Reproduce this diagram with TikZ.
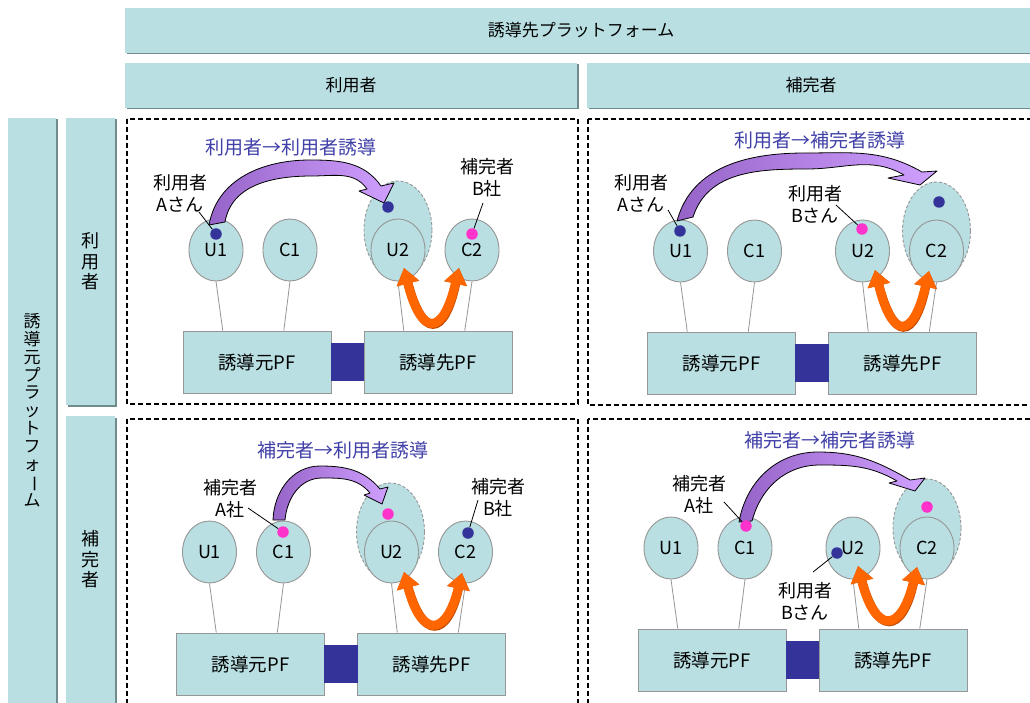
\documentclass[tikz,border=0pt]{standalone}
\usepackage{fontspec}
\setmainfont{Noto Sans CJK JP}
\usetikzlibrary{shapes.geometric,arrows.meta,calc,shadows}
\definecolor{teal1}{RGB}{185,223,226}
\definecolor{hdrshadow}{RGB}{112,140,142}
\definecolor{edgegray}{RGB}{150,150,150}
\definecolor{dotblue}{RGB}{51,51,153}
\definecolor{dotpink}{RGB}{255,51,204}
\definecolor{titleblue}{RGB}{64,64,168}
\definecolor{orng}{RGB}{255,102,0}
\definecolor{orngdark}{RGB}{196,76,0}
\definecolor{purpdark}{RGB}{150,100,200}
\definecolor{purplight}{RGB}{208,160,255}
\newcommand{\vbar}{\rotatebox[origin=c]{-90}{ー}}
\tikzset{
  hdr/.style={fill=teal1, draw=none, inner sep=0pt, align=center,
    drop shadow={shadow xshift=1.5pt, shadow yshift=-1.5pt, fill=hdrshadow, opacity=1},
    font=\fontsize{17}{20}\selectfont},
  frame/.style={draw=black, line width=1.5pt, dash pattern=on 5pt off 3pt},
  actor/.style={ellipse, fill=teal1, draw=edgegray, line width=0.9pt, minimum width=54pt,
    minimum height=62pt, inner sep=0pt, font=\fontsize{18}{20}\selectfont},
  dashell/.style={ellipse, fill=teal1, draw=edgegray, line width=0.9pt, dash pattern=on 3pt off 2pt,
    minimum width=68pt, minimum height=98pt, inner sep=0pt},
  pfbox/.style={rectangle, fill=teal1, draw=edgegray, line width=0.9pt, minimum width=148pt,
    minimum height=62pt, inner sep=0pt, font=\fontsize{18.5}{20}\selectfont},
  linkbar/.style={rectangle, fill=dotblue, draw=none, minimum width=33.5pt, minimum height=38pt, inner sep=0pt},
  wire/.style={draw=edgegray, line width=0.8pt},
  bdot/.style={circle, fill=dotblue, minimum size=11.5pt, inner sep=0pt},
  pdot/.style={circle, fill=dotpink, minimum size=11.5pt, inner sep=0pt},
  lbl/.style={align=center, inner sep=0pt, font=\fontsize{18}{22}\selectfont},
  ttl/.style={inner sep=0pt, text=titleblue, font=\fontsize{19}{22}\selectfont},
  leader/.style={draw=black, line width=0.8pt},
  parrow/.style={draw=black, line width=0.8pt, line join=round, left color=purpdark, right color=purplight},
  oarrow/.style={draw=orng, line width=9pt, {Triangle[width=22pt,length=16pt]}-{Triangle[width=22pt,length=16pt]}},
  oshadow/.style={oarrow, draw=orngdark, shift={(1.3,-1.3)}}
}
\newcommand{\pfquad}[4]{%
  \begin{scope}[shift={(#2,#3)}]
    \node[dashell] (#1dash) at (#4,-230) {};
    \node[actor] (#1u1) at (216,-250) {U1};
    \node[actor] (#1c1) at (290,-250) {C1};
    \node[actor] (#1u2) at (398,-250) {U2};
    \node[actor] (#1c2) at (472,-250) {C2};
    \node[pfbox] (#1src) at (257,-362) {誘導元PF};
    \node[pfbox] (#1dst) at (438,-362) {誘導先PF};
  \end{scope}
  \node[linkbar] (#1link) at ($(#1src.east)!0.5!(#1dst.west)$) {};
  \draw[wire] (#1u1.south) -- ($(#1src.north west)!0.27!(#1src.north east)$);
  \draw[wire] (#1c1.south) -- ($(#1src.north west)!0.68!(#1src.north east)$);
  \draw[wire] (#1u2.south) -- ($(#1dst.north west)!0.27!(#1dst.north east)$);
  \draw[wire] (#1c2.south) -- ($(#1dst.north west)!0.68!(#1dst.north east)$);
}
\begin{document}
\begin{tikzpicture}[x=1pt,y=1pt]
\useasboundingbox (0,0) rectangle (1030,-703);
\fill[white] (0,0) rectangle (1030,-703);

% headers
\node[hdr, minimum width=912pt, minimum height=45pt] (hTop) at (581,-30.5) {誘導先プラットフォーム};
\node[hdr, minimum width=452pt, minimum height=45pt] (hUser) at (351,-85.5) {利用者};
\node[hdr, minimum width=448pt, minimum height=45pt] (hComp) at (811,-85.5) {補完者};
\node[hdr, minimum width=48pt, minimum height=585pt, font=\fontsize{17}{17.8}\selectfont] (vSrc) at (32,-410.5)
  {誘\\導\\元\\プ\\ラ\\ッ\\ト\\フ\\ォ\\\vbar\\ム};
\node[hdr, minimum width=49pt, minimum height=287pt, font=\fontsize{18}{20.5}\selectfont] (vUser) at (90.5,-261.5) {利\\用\\者};
\node[hdr, minimum width=49pt, minimum height=287pt, font=\fontsize{18}{20.5}\selectfont] (vComp) at (90.5,-559.5) {補\\完\\者};

% frames
\draw[frame] (127,-119) rectangle (578,-404);
\draw[frame] (588,-119) rectangle (1040,-405);
\draw[frame] (127,-419) rectangle (578,-712);
\draw[frame] (588,-419) rectangle (1040,-712);

% quadrants
\pfquad{q1}{0}{0}{398}
\pfquad{q2}{464.5}{-1}{472}
\pfquad{q3}{-6.5}{-302}{397}
\pfquad{q4}{455}{-298}{472}

% titles
\node[ttl] (q1t) at (291,-147) {利用者→利用者誘導};
\node[ttl] (q2t) at (820,-140) {利用者→補完者誘導};
\node[ttl] (q3t) at (343,-450) {補完者→利用者誘導};
\node[ttl] (q4t) at (830,-440) {補完者→補完者誘導};

% purple curved arrows
\path[parrow] (209,-225) to[out=80,in=180] (310,-160) to[out=0,in=125] (381,-186)
  -- (394,-183) -- (384,-203) -- (359,-191) -- (367,-189)
  to[out=125,in=0] (312,-176) to[out=180,in=80] (225,-222) -- cycle;
\path[parrow] (677,-221) to[out=75,in=180] (805,-153) to[out=0,in=150] (922,-172)
  -- (937,-171) -- (920,-185) -- (888,-178) -- (904,-175)
  to[out=150,in=0] (807,-169) to[out=180,in=72] (693,-217) -- cycle;
\path[parrow] (273,-520) to[out=88,in=180] (320,-466) to[out=0,in=130] (380,-489)
  -- (388,-487) -- (382,-504) -- (364,-495) -- (370,-493)
  to[out=130,in=0] (322,-478) to[out=180,in=85] (285,-520) -- cycle;
\path[parrow] (739,-522) to[out=80,in=180] (818,-452) to[out=0,in=150] (910,-480)
  -- (925,-478) -- (915,-491) -- (889,-483) -- (897,-481)
  to[out=150,in=0] (820,-465) to[out=180,in=75] (752,-521) -- cycle;

% orange double arrows
\coordinate (q1oa) at (404,-268); \coordinate (q1ob) at (459,-268);
\coordinate (q2oa) at (875,-270); \coordinate (q2ob) at (929,-271);
\coordinate (q3oa) at (404,-572); \coordinate (q3ob) at (462,-573);
\coordinate (q4oa) at (858,-566); \coordinate (q4ob) at (917,-567);
\draw[oshadow] (q1oa) .. controls (421,-337) and (443,-337) .. (q1ob);
\draw[oarrow] (q1oa) .. controls (421,-337) and (443,-337) .. (q1ob);
\draw[oshadow] (q2oa) .. controls (892,-340) and (913,-340) .. (q2ob);
\draw[oarrow] (q2oa) .. controls (892,-340) and (913,-340) .. (q2ob);
\draw[oshadow] (q3oa) .. controls (421,-638) and (446,-638) .. (q3ob);
\draw[oarrow] (q3oa) .. controls (421,-638) and (446,-638) .. (q3ob);
\draw[oshadow] (q4oa) .. controls (875,-634) and (901,-634) .. (q4ob);
\draw[oarrow] (q4oa) .. controls (875,-634) and (901,-634) .. (q4ob);

% dots
\node[bdot] (q1d1) at (216,-234) {};
\node[bdot] (q1d2) at (388,-207) {};
\node[pdot] (q1d3) at (472,-234) {};
\node[bdot] (q2d1) at (680,-231) {};
\node[bdot] (q2d2) at (939,-202) {};
\node[pdot] (q2d3) at (862,-229) {};
\node[pdot] (q3d1) at (283,-532) {};
\node[pdot] (q3d2) at (388,-514) {};
\node[bdot] (q3d3) at (468,-533) {};
\node[pdot] (q4d1) at (746,-526) {};
\node[pdot] (q4d2) at (927,-507) {};
\node[bdot] (q4d3) at (837,-553) {};

% labels and leaders
\node[lbl] (q1la) at (180,-193) {利用者\\Aさん};
\node[lbl] (q1lb) at (487,-178) {補完者\\B社};
\node[lbl] (q2la) at (641,-193) {利用者\\Aさん};
\node[lbl] (q2lb) at (815,-204) {利用者\\Bさん};
\node[lbl] (q3la) at (230,-499) {補完者\\A社};
\node[lbl] (q3lb) at (498,-498) {補完者\\B社};
\node[lbl] (q4la) at (699,-495) {補完者\\A社};
\node[lbl] (q4lb) at (805,-601) {利用者\\Bさん};
\coordinate (q1ea) at (199,-212); \coordinate (q1eb) at (483,-203);
\coordinate (q2ea) at (668,-210); \coordinate (q2eb) at (836,-205);
\coordinate (q3ea) at (248,-508); \coordinate (q3eb) at (478,-500);
\coordinate (q4ea) at (724,-502); \coordinate (q4eb) at (813,-572);
\draw[leader] (q1ea) -- (q1d1);
\draw[leader] (q1eb) -- (q1d3);
\draw[leader] (q2ea) -- (q2d1);
\draw[leader] (q2eb) -- (q2d3);
\draw[leader] (q3ea) -- (q3d1);
\draw[leader] (q3eb) -- (q3d3);
\draw[leader] (q4ea) -- (q4d1);
\draw[leader] (q4eb) -- (q4d3);
\end{tikzpicture}
\end{document}
